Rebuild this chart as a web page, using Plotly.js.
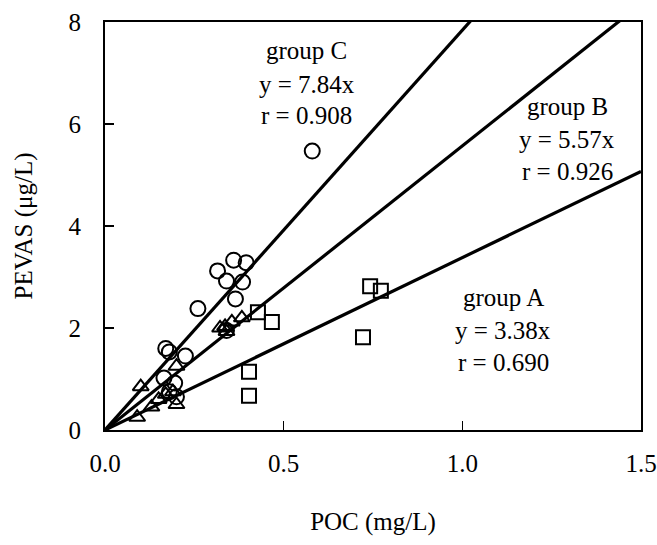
<!DOCTYPE html>
<html>
<head>
<meta charset="utf-8">
<script src="https://cdn.plot.ly/plotly-3.0.1.min.js"></script>
<style>html,body{margin:0;padding:0;background:#fff;}#chart{width:657px;height:545px;}</style>
</head>
<body>
<div id="chart"></div>
<script>
// Group A (squares)
const groupA_x = [0.742, 0.772, 0.722, 0.428, 0.467, 0.403, 0.403];
const groupA_y = [2.82, 2.73, 1.82, 2.31, 2.12, 1.14, 0.67];
// Group B (triangles)
const groupB_x = [0.09, 0.10, 0.13, 0.15, 0.17, 0.19, 0.20, 0.20, 0.322, 0.336, 0.355, 0.383, 0.34];
const groupB_y = [0.25, 0.85, 0.45, 0.60, 0.70, 0.75, 0.50, 1.25, 2.00, 2.03, 2.12, 2.20, 1.93];
// Group C (circles)
const groupC_x = [0.17, 0.18, 0.225, 0.165, 0.195, 0.18, 0.20, 0.26, 0.315, 0.36, 0.395, 0.34, 0.385, 0.365, 0.58, 0.34];
const groupC_y = [1.60, 1.53, 1.45, 1.02, 0.92, 0.75, 0.65, 2.38, 3.12, 3.33, 3.28, 2.92, 2.90, 2.57, 5.47, 1.95];
// Regression slopes
const groups = ["group A", "group B", "group C"];
const slopes = [3.38, 5.57, 7.84];
const rValues = ["0.690", "0.926", "0.908"];
const lineX = [0, 1.5];
const xTicks = [0, 0.5, 1.0, 1.5];
const xTickText = ["0.0", "0.5", "1.0", "1.5"];
const yTicks = [0, 2, 4, 6, 8];

const FONT = "Liberation Serif, Times New Roman, serif";
const mk = (sym, size) => ({symbol: sym, size: size, color: "#000", line: {color: "#000", width: 2}});

const traces = [];
slopes.forEach((s, i) => {
  traces.push({x: lineX, y: lineX.map(v => s * v), mode: "lines", line: {color: "#000", width: 3.2}, hoverinfo: "skip", showlegend: false});
});
traces.push({x: groupA_x, y: groupA_y, mode: "markers", marker: mk("square-open", 14), showlegend: false});
traces.push({x: groupB_x, y: groupB_y, mode: "markers", marker: mk("triangle-up-open", 14), showlegend: false});
traces.push({x: groupC_x, y: groupC_y, mode: "markers", marker: mk("circle-open", 15), showlegend: false});

// annotation anchor positions (data coords) for each group's three text lines
const annPos = [
  {x: 1.114, y: [2.59, 1.96, 1.33]},
  {x: 1.293, y: [6.35, 5.69, 5.06]},
  {x: 0.565, y: [7.45, 6.78, 6.16]}
];
const annotations = [];
groups.forEach((g, i) => {
  const lines = [g, "y = " + slopes[i].toFixed(2) + "x", "r = " + rValues[i]];
  lines.forEach((t, j) => {
    annotations.push({x: annPos[i].x, y: annPos[i].y[j], xref: "x", yref: "y", text: t, showarrow: false,
      font: {family: FONT, size: 25, color: "#000"}, bgcolor: "rgba(0,0,0,0)"});
  });
});

const layout = {
  width: 657, height: 545,
  margin: {l: 105, r: 16, t: 22, b: 115},
  paper_bgcolor: "#fff", plot_bgcolor: "#fff",
  font: {family: FONT, size: 25, color: "#000"},
  showlegend: false,
  xaxis: {
    range: [0, 1.5], tickvals: xTicks, ticktext: xTickText,
    ticks: "inside", ticklen: 9, tickwidth: 1.5, tickcolor: "#000",
    showline: true, linecolor: "#000", linewidth: 2, mirror: true,
    showgrid: false, zeroline: false, ticklabelstandoff: 10,
    title: {text: "POC (mg/L)", font: {family: FONT, size: 25}, standoff: 36}
  },
  yaxis: {
    range: [0, 8], tickvals: yTicks,
    ticks: "inside", ticklen: 9, tickwidth: 1.5, tickcolor: "#000",
    showline: true, linecolor: "#000", linewidth: 2, mirror: true,
    showgrid: false, zeroline: false, ticklabelstandoff: 17,
    title: {text: "PEVAS (μg/L)", font: {family: FONT, size: 25}, standoff: 29}
  },
  annotations: annotations
};

Plotly.newPlot("chart", traces, layout, {displayModeBar: false, staticPlot: true});
</script>
</body>
</html>
